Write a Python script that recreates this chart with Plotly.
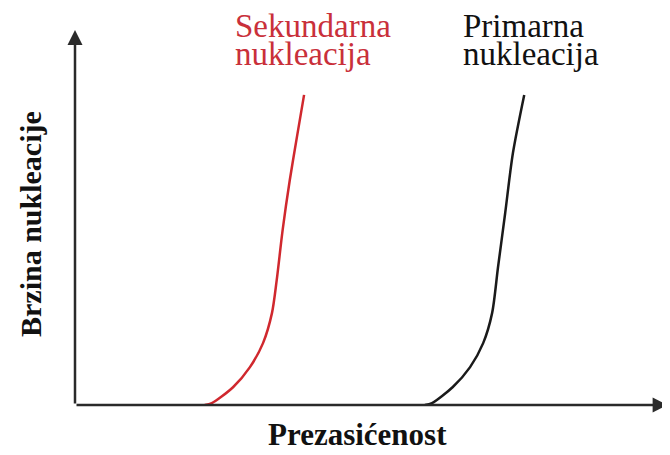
import plotly.graph_objects as go

# Data (arbitrary units)
secondary_x = [21.8, 23.0, 26.6, 29.4, 31.6, 33.1, 33.9, 34.9, 36.1, 37.3, 38.5]
secondary_y = [0.0, 0.5, 4.8, 10.1, 16.5, 24.5, 33.3, 46.7, 60.0, 71.5, 82.7]
primary_x = [58.8, 60.0, 63.5, 66.4, 68.6, 70.1, 71.1, 72.3, 73.6, 75.5]
primary_y = [0.0, 0.5, 4.8, 10.1, 16.5, 24.5, 36.8, 51.2, 67.2, 82.7]

label_secondary = ["Sekundarna", "nukleacija"]
label_primary = ["Primarna", "nukleacija"]
x_title = "Prezasićenost"
y_title = "Brzina nukleacije"

RED = "#d0282e"
BLACK = "#1a1a1a"
SERIF = "Times New Roman, Liberation Serif, serif"
SERIF2 = "serif"

fig = go.Figure()
fig.add_trace(go.Scatter(x=secondary_x, y=secondary_y, mode="lines",
                         line=dict(color=RED, width=2.5, shape="spline", smoothing=0.8),
                         hoverinfo="skip", showlegend=False))
fig.add_trace(go.Scatter(x=primary_x, y=primary_y, mode="lines",
                         line=dict(color=BLACK, width=2.5, shape="spline", smoothing=0.8),
                         hoverinfo="skip", showlegend=False))

annotations = []
# axis arrows
annotations.append(dict(x=0, y=100, ax=0, ay=0, xref="x", yref="y", axref="x", ayref="y",
                        showarrow=True, arrowhead=2, arrowsize=1.2, arrowwidth=2.5,
                        arrowcolor="#2a2a2a", text=""))
annotations.append(dict(x=99.6, y=0, ax=0, ay=0, xref="x", yref="y", axref="x", ayref="y",
                        showarrow=True, arrowhead=2, arrowsize=1.2, arrowwidth=2.5,
                        arrowcolor="#2a2a2a", text=""))

# page pixel -> paper coordinates (plot area spans 75..670 x, 30..405 y on the page)
def px_x(p):
    return (p - 75) / 595.0

def px_y(p):
    return (405 - p) / 375.0

for i, t in enumerate(label_secondary):
    annotations.append(dict(text=t, xref="paper", yref="paper", x=px_x(233), y=px_y(26 + 28 * i),
                            xanchor="left", yanchor="middle", showarrow=False,
                            font=dict(family=SERIF, size=33, color="#c9303a")))
for i, t in enumerate(label_primary):
    annotations.append(dict(text=t, xref="paper", yref="paper", x=px_x(461), y=px_y(26 + 28 * i),
                            xanchor="left", yanchor="middle", showarrow=False,
                            font=dict(family=SERIF2, size=33, color="#111111")))

annotations.append(dict(text="<b>%s</b>" % x_title, xref="paper", yref="paper",
                        x=px_x(357), y=px_y(454), xanchor="center", yanchor="bottom",
                        showarrow=False, font=dict(family=SERIF, size=31, color="#111111")))
annotations.append(dict(text="<b>%s</b>" % y_title, xref="paper", yref="paper",
                        x=px_x(30), y=px_y(224), xanchor="center", yanchor="middle",
                        textangle=-90, showarrow=False,
                        font=dict(family=SERIF, size=30, color="#111111")))

# the page adds an 8px body margin, so the figure is made 8px smaller and shifted
fig.update_layout(
    width=662, height=447,
    margin=dict(l=67, r=0, t=22, b=50),
    paper_bgcolor="white", plot_bgcolor="white",
    xaxis=dict(range=[0, 100], showgrid=False, zeroline=False, showticklabels=False,
               ticks="", showline=False, fixedrange=True),
    yaxis=dict(range=[0, 100], showgrid=False, zeroline=False, showticklabels=False,
               ticks="", showline=False, fixedrange=True),
    annotations=annotations,
    showlegend=False,
)

fig.write_html("out.html")
